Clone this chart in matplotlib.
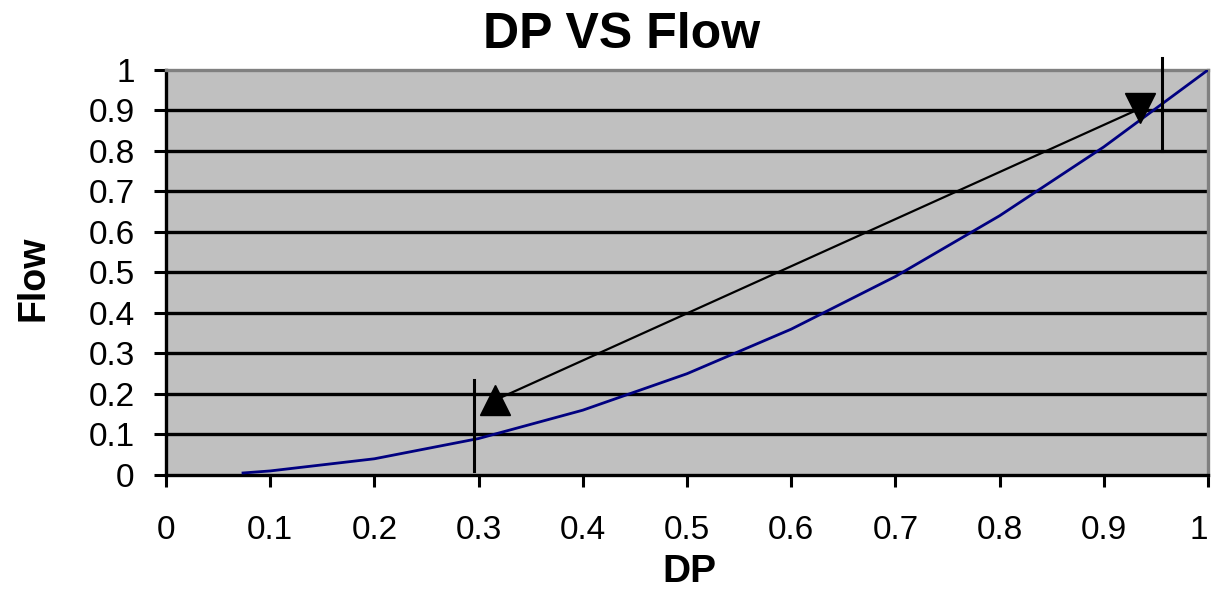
import matplotlib.pyplot as plt

# blue curve
dp = [0.074, 0.1, 0.2, 0.3, 0.4, 0.5, 0.6, 0.7, 0.8, 0.9, 1.0]
flow = [0.005, 0.01, 0.04, 0.09, 0.16, 0.25, 0.36, 0.49, 0.64, 0.81, 1.0]

# black line between the two markers
op_dp = [0.316, 0.935]
op_flow = [0.185, 0.905]

# vertical bars
bar_x = [0.296, 0.956]
bar_lo = [0.01, 0.80]
bar_hi = [0.235, 1.03]

ticks = [0, 0.1, 0.2, 0.3, 0.4, 0.5, 0.6, 0.7, 0.8, 0.9, 1]
tick_labels = ["0", "0.1", "0.2", "0.3", "0.4", "0.5", "0.6", "0.7", "0.8", "0.9", "1"]

plt.rcParams['font.family'] = ['Liberation Sans', 'DejaVu Sans']

fig = plt.figure(figsize=(12.11, 5.93), dpi=100)
ax = fig.add_axes([0.137, 0.199, 0.8605, 0.683])
ax.set_facecolor('#C0C0C0')

for t in ticks[1:-1]:
    ax.axhline(t, color='black', lw=2.4, zorder=1)

ax.plot(dp, flow, color='#000080', lw=2.0, zorder=3)
ax.plot(op_dp, op_flow, color='black', lw=1.6, zorder=3)
ax.plot(op_dp[0], op_flow[0], marker='^', color='black', markersize=22, zorder=4)
ax.plot(op_dp[1], op_flow[1], marker='v', color='black', markersize=22, zorder=4)
for x, lo, hi in zip(bar_x, bar_lo, bar_hi):
    ax.plot([x, x], [lo, hi], color='black', lw=2.2, zorder=4, clip_on=False)

ax.set_xlim(0, 1)
ax.set_ylim(0, 1)
ax.set_xticks(ticks)
ax.set_xticklabels(tick_labels)
ax.set_yticks(ticks)
ax.set_yticklabels(tick_labels)
ax.get_xticklabels()[-1].set_horizontalalignment('right')
ax.tick_params(axis='both', direction='out', length=8.5, width=2.2, labelsize=24)
ax.tick_params(axis='x', pad=20)
ax.tick_params(axis='y', pad=14)

for s in ['left', 'bottom']:
    ax.spines[s].set_linewidth(2.4)
    ax.spines[s].set_color('black')
for s in ['top', 'right']:
    ax.spines[s].set_linewidth(2.4)
    ax.spines[s].set_color('#808080')

fig.text(622 / 1211, 1 - 12 / 593, "DP VS Flow", fontsize=36, fontweight='bold',
         ha='center', va='top')
fig.text(689 / 1211, 1 - 572 / 593, "DP", fontsize=28, fontweight='bold',
         ha='center', va='center')
fig.text(33 / 1211, 1 - 278 / 593, "Flow", fontsize=27, fontweight='bold',
         ha='center', va='center', rotation=90)

fig.savefig("out.png", dpi=100)
